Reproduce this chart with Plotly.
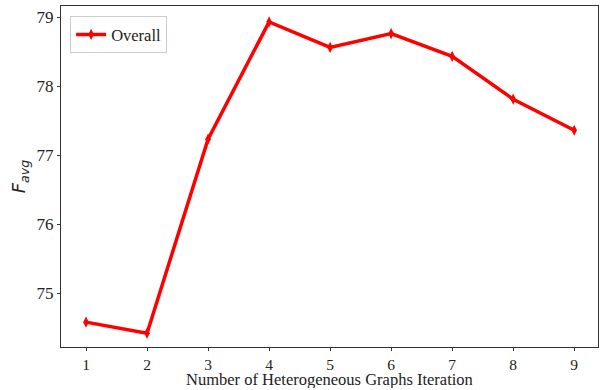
import plotly.graph_objects as go

iterations = [1, 2, 3, 4, 5, 6, 7, 8, 9]
overall = [74.58, 74.42, 77.23, 78.93, 78.56, 78.76, 78.43, 77.81, 77.36]
y_ticks = [75, 76, 77, 78, 79]

fig = go.Figure()
fig.add_trace(go.Scatter(
    x=iterations, y=overall, mode="lines+markers", name="Overall",
    line=dict(color="#ff0000", width=3.5),
    marker=dict(symbol="diamond-tall", size=8, color="#ff0000"),
))

axis_common = dict(
    showline=True, linecolor="#333333", linewidth=1, mirror=True,
    ticks="outside", ticklen=3, tickcolor="#333333", showgrid=False, zeroline=False,
    automargin=False,
)
fig.update_layout(
    width=602, height=390,
    margin=dict(l=61, r=4, t=6, b=43),
    paper_bgcolor="white", plot_bgcolor="white",
    xaxis=dict(range=[0.59, 9.39], tickvals=iterations,
               tickfont=dict(family="Liberation Serif", size=15.5, color="#222222"),
               **axis_common),
    yaxis=dict(range=[74.22, 79.16], tickvals=y_ticks,
               tickfont=dict(family="Liberation Serif", size=17, color="#222222"),
               title=dict(text="<i>F</i><sub><i>avg</i></sub>",
                          font=dict(family="DejaVu Sans", size=18, color="#222222"),
                          standoff=6),
               **axis_common),
    legend=dict(x=0.017, y=0.97, xanchor="left", yanchor="top",
                bgcolor="rgba(255,255,255,0.8)", bordercolor="#cccccc", borderwidth=1,
                font=dict(family="Liberation Serif", size=16.5, color="#222222")),
    showlegend=True,
    annotations=[dict(
        text="Number of Heterogeneous Graphs Iteration",
        xref="paper", yref="paper", x=0.5, y=-0.1232,
        xanchor="center", yanchor="bottom", showarrow=False,
        height=17, borderpad=0,
        font=dict(family="Liberation Serif", size=16.5, color="#222222"),
    )],
)
fig.write_html("out.html")
